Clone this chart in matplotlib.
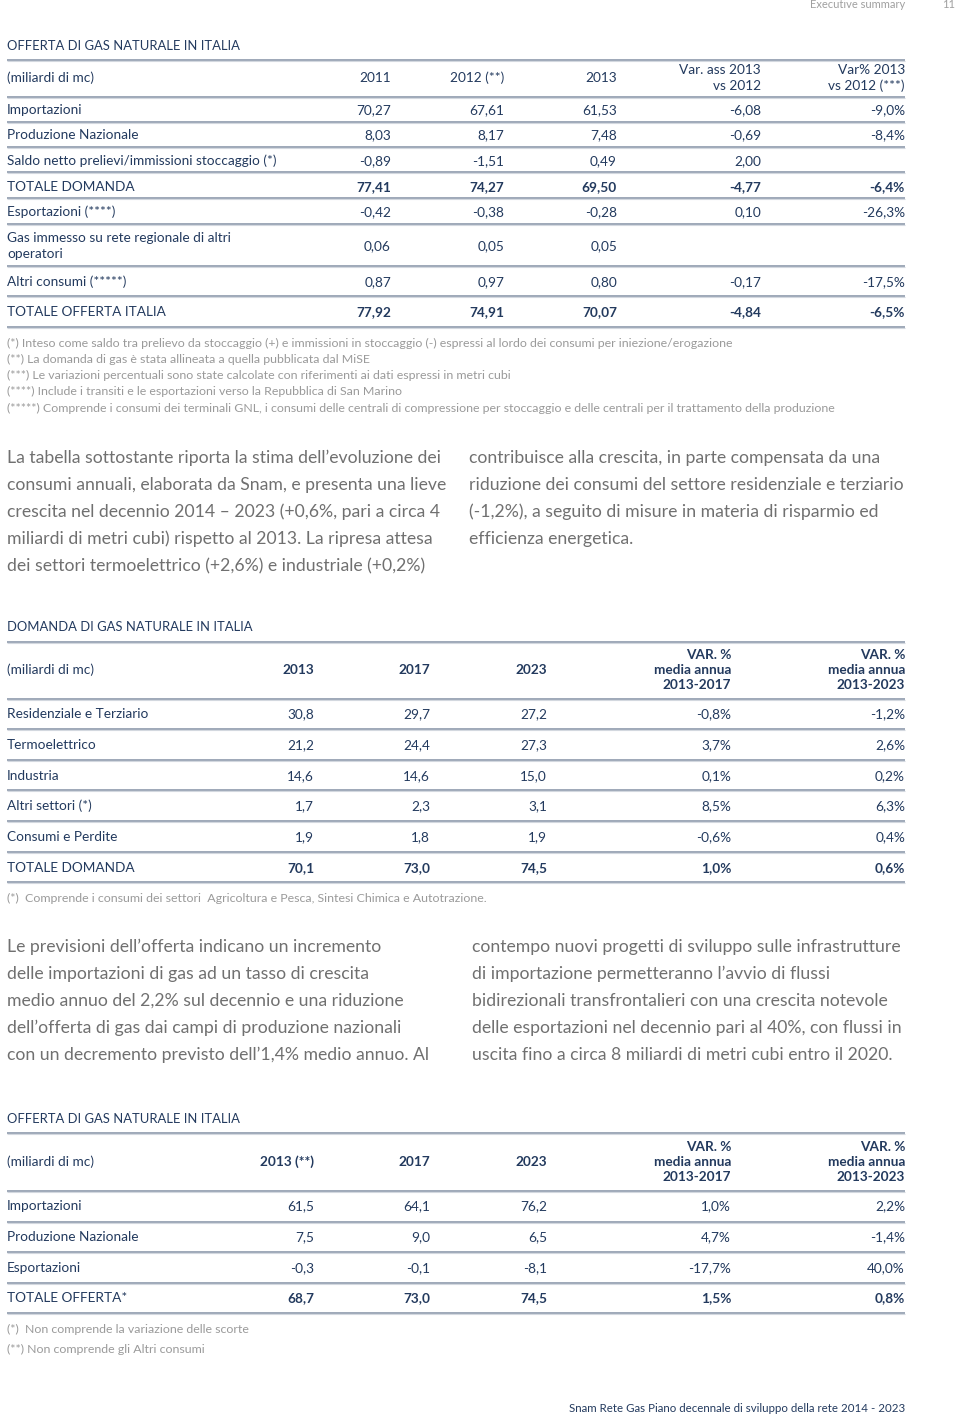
import matplotlib.pyplot as plt

NAVY = '#233a5e'
GREY = '#707070'
LIGHT = '#9a9a9a'
RULE = '#8d9aab'
TFONT = 'Lato'
PFONT = 'Lato'

# --- table 1: offerta di gas naturale 2011-2013 ---
t1_title = 'OFFERTA DI GAS NATURALE IN ITALIA'
t1_cols = ['2011', '2012 (**)', '2013', 'Var. ass 2013\nvs 2012', 'Var% 2013\nvs 2012 (***)']
t1_labels = ['Importazioni', 'Produzione Nazionale', 'Saldo netto prelievi/immissioni stoccaggio (*)',
             'TOTALE DOMANDA', 'Esportazioni (****)', 'Gas immesso su rete regionale di altri\noperatori',
             'Altri consumi (*****)', 'TOTALE OFFERTA ITALIA']
t1_2011 = ['70,27', '8,03', '-0,89', '77,41', '-0,42', '0,06', '0,87', '77,92']
t1_2012 = ['67,61', '8,17', '-1,51', '74,27', '-0,38', '0,05', '0,97', '74,91']
t1_2013 = ['61,53', '7,48', '0,49', '69,50', '-0,28', '0,05', '0,80', '70,07']
t1_var_ass = ['-6,08', '-0,69', '2,00', '-4,77', '0,10', '', '-0,17', '-4,84']
t1_var_pct = ['-9,0%', '-8,4%', '', '-6,4%', '-26,3%', '', '-17,5%', '-6,5%']
t1_bold = [False, False, False, True, False, False, False, True]
t1_notes = [
    '(*) Inteso come saldo tra prelievo da stoccaggio (+) e immissioni in stoccaggio (-) espressi al lordo dei consumi per iniezione/erogazione',
    '(**) La domanda di gas è stata allineata a quella pubblicata dal MiSE',
    '(***) Le variazioni percentuali sono state calcolate con riferimenti ai dati espressi in metri cubi',
    '(****) Include i transiti e le esportazioni verso la Repubblica di San Marino',
    '(*****) Comprende i consumi dei terminali GNL, i consumi delle centrali di compressione per stoccaggio e delle centrali per il trattamento della produzione',
]

# --- table 2: domanda di gas naturale 2013-2023 ---
t2_title = 'DOMANDA DI GAS NATURALE IN ITALIA'
t2_cols = ['2013', '2017', '2023', 'VAR. %\nmedia annua\n2013-2017', 'VAR. %\nmedia annua\n2013-2023']
t2_labels = ['Residenziale e Terziario', 'Termoelettrico', 'Industria', 'Altri settori (*)',
             'Consumi e Perdite', 'TOTALE DOMANDA']
t2_2013 = ['30,8', '21,2', '14,6', '1,7', '1,9', '70,1']
t2_2017 = ['29,7', '24,4', '14,6', '2,3', '1,8', '73,0']
t2_2023 = ['27,2', '27,3', '15,0', '3,1', '1,9', '74,5']
t2_var17 = ['-0,8%', '3,7%', '0,1%', '8,5%', '-0,6%', '1,0%']
t2_var23 = ['-1,2%', '2,6%', '0,2%', '6,3%', '0,4%', '0,6%']
t2_bold = [False, False, False, False, False, True]
t2_notes = ['(*)  Comprende i consumi dei settori  Agricoltura e Pesca, Sintesi Chimica e Autotrazione.']

# --- table 3: offerta di gas naturale 2013-2023 ---
t3_title = 'OFFERTA DI GAS NATURALE IN ITALIA'
t3_cols = ['2013 (**)', '2017', '2023', 'VAR. %\nmedia annua\n2013-2017', 'VAR. %\nmedia annua\n2013-2023']
t3_labels = ['Importazioni', 'Produzione Nazionale', 'Esportazioni', 'TOTALE OFFERTA*']
t3_2013 = ['61,5', '7,5', '-0,3', '68,7']
t3_2017 = ['64,1', '9,0', '-0,1', '73,0']
t3_2023 = ['76,2', '6,5', '-8,1', '74,5']
t3_var17 = ['1,0%', '4,7%', '-17,7%', '1,5%']
t3_var23 = ['2,2%', '-1,4%', '40,0%', '0,8%']
t3_bold = [False, False, False, True]
t3_notes = ['(*)  Non comprende la variazione delle scorte', '(**) Non comprende gli Altri consumi']

para1_left = ['La tabella sottostante riporta la stima dell’evoluzione dei',
              'consumi annuali, elaborata da Snam, e presenta una lieve',
              'crescita nel decennio 2014 – 2023 (+0,6%, pari a circa 4',
              'miliardi di metri cubi) rispetto al 2013. La ripresa attesa',
              'dei settori termoelettrico (+2,6%) e industriale (+0,2%)']
para1_right = ['contribuisce alla crescita, in parte compensata da una',
               'riduzione dei consumi del settore residenziale e terziario',
               '(-1,2%), a seguito di misure in materia di risparmio ed',
               'efficienza energetica.']
para2_left = ['Le previsioni dell’offerta indicano un incremento',
              'delle importazioni di gas ad un tasso di crescita',
              'medio annuo del 2,2% sul decennio e una riduzione',
              'dell’offerta di gas dai campi di produzione nazionali',
              'con un decremento previsto dell’1,4% medio annuo. Al']
para2_right = ['contempo nuovi progetti di sviluppo sulle infrastrutture',
               'di importazione permetteranno l’avvio di flussi',
               'bidirezionali transfrontalieri con una crescita notevole',
               'delle esportazioni nel decennio pari al 40%, con flussi in',
               'uscita fino a circa 8 miliardi di metri cubi entro il 2020.']

fig = plt.figure(figsize=(9.6, 14.19), dpi=100)
ax = fig.add_axes([0, 0, 1, 1])
ax.set_xlim(0, 960)
ax.set_ylim(1419, 0)
ax.axis('off')

X0, X1 = 7, 905
FS = 9.8


def rule(y):
    ax.plot([X0, X1], [y, y], color=RULE, lw=1.2, solid_capstyle='butt')
    ax.plot([X0, X1], [y + 1.3, y + 1.3], color='#d3d8df', lw=0.8, solid_capstyle='butt')


def table(title, y_title, y_top, cols, col_x, head_y, head_bold, y_head_rule,
          labels, columns, bold, row_y, rule_y):
    ax.text(X0, y_title, title, color=NAVY, fontsize=9.4, family=TFONT, va='center')
    rule(y_top)
    ax.text(X0, head_y, '(miliardi di mc)', color=NAVY, fontsize=FS, family=TFONT, va='center')
    for c, x in zip(cols, col_x):
        ax.text(x, head_y, c, color=NAVY, fontsize=FS, family=TFONT, va='center', ha='right',
                ma='right', linespacing=1.3, fontweight='bold' if head_bold else 'normal')
    rule(y_head_rule)
    for i, lab in enumerate(labels):
        ax.text(X0, row_y[i], lab, color=NAVY, fontsize=FS, family=TFONT, va='center', linespacing=1.35)
        for col, x in zip(columns, col_x):
            ax.text(x, row_y[i], col[i], color=NAVY, fontsize=FS, family=TFONT, va='center',
                    ha='right', fontweight='bold' if bold[i] else 'normal')
        rule(rule_y[i])


def notes(lines, ys, fs=8.9):
    for t, y in zip(lines, ys):
        ax.text(X0, y, t, color=LIGHT, fontsize=fs, family=TFONT, va='center')


def para(lines, x, y0, step=27):
    for k, t in enumerate(lines):
        ax.text(x, y0 + k * step, t, color=GREY, fontsize=12.7, family=PFONT, va='center')


# page header / footer
ax.text(905, 5, 'Executive summary', color='#a0a0a0', fontsize=8, family=TFONT, va='center', ha='right')
ax.text(955, 5, '11', color='#a0a0a0', fontsize=8, family=TFONT, va='center', ha='right')
ax.text(905, 1408, 'Snam Rete Gas Piano decennale di sviluppo della rete 2014 - 2023', color=NAVY,
        fontsize=8.3, family=TFONT, va='center', ha='right')

table(t1_title, 46, 60, t1_cols, [391, 504, 617, 761, 905], 78, False, 97,
      t1_labels, [t1_2011, t1_2012, t1_2013, t1_var_ass, t1_var_pct], t1_bold,
      [110, 135, 161, 187, 212, 246, 282, 312], [122, 147, 172, 198, 224, 266, 296, 327])
notes(t1_notes, [343, 359, 375, 391, 408])

para(para1_left, 7, 458)
para(para1_right, 469, 458)

table(t2_title, 627, 642, t2_cols, [314, 430, 547, 731, 905], 670, True, 699,
      t2_labels, [t2_2013, t2_2017, t2_2023, t2_var17, t2_var23], t2_bold,
      [714, 745, 776, 806, 837, 868], [729, 760, 790, 821, 852, 882])
notes(t2_notes, [898])

para(para2_left, 7, 947)
para(para2_right, 472, 947)

table(t3_title, 1119, 1133, t3_cols, [314, 430, 547, 731, 905], 1162, True, 1191,
      t3_labels, [t3_2013, t3_2017, t3_2023, t3_var17, t3_var23], t3_bold,
      [1206, 1237, 1268, 1298], [1222, 1252, 1283, 1313])
notes(t3_notes, [1329, 1349])

fig.savefig('out.png', dpi=100)
